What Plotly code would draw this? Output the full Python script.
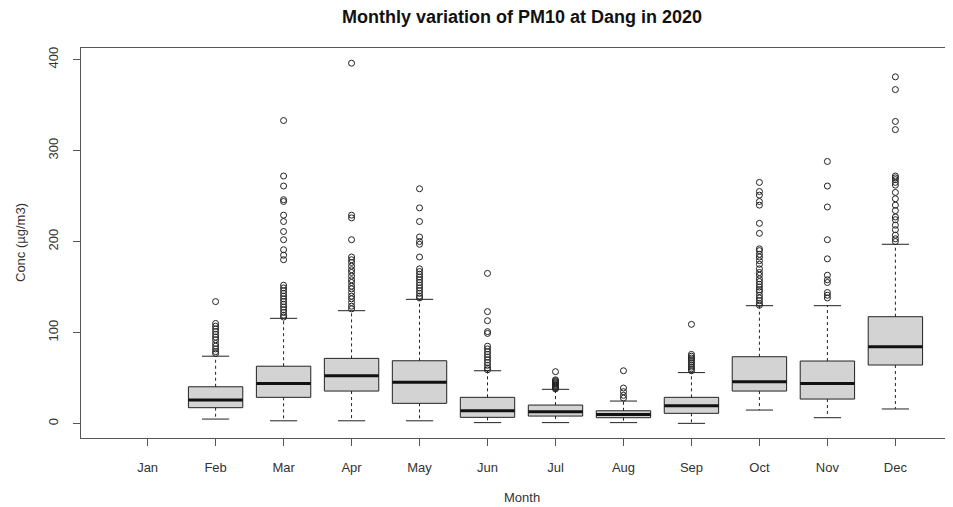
import plotly.graph_objects as go

months = ["Jan", "Feb", "Mar", "Apr", "May", "Jun", "Jul", "Aug", "Sep", "Oct", "Nov", "Dec"]
# stats per month (Jan has no data -> None)
q1 =      [None, 17.4, 28.8, 35.7, 22.2, 6.8, 8.2, 6.4, 11.2, 35.7, 26.9, 64.3]
median =  [None, 25.8, 44.0, 52.5, 45.3, 14.1, 13.0, 10.0, 19.6, 46.0, 44.0, 84.4]
q3 =      [None, 40.4, 63.0, 71.6, 69.0, 28.8, 20.3, 14.0, 28.8, 73.4, 68.7, 117.4]
lower =   [None, 4.9, 3.0, 3.0, 3.0, 1.0, 1.0, 1.0, 0.2, 14.8, 6.4, 16.0]
upper =   [None, 74.0, 115.6, 124.0, 136.5, 58.0, 37.6, 24.7, 56.0, 129.5, 129.5, 197.0]

out_feb = [134, 110, 107, 104, 101, 98, 95, 92, 88, 85, 82, 79, 77]
out_mar = [333, 272, 261, 246, 244, 229, 222, 211, 202, 191, 185, 180, 152, 149, 146, 143,
           140, 137, 134, 131, 128, 125, 122, 119, 117]
out_apr = [396, 229, 226, 202, 183, 180, 177, 173, 169, 166, 162, 158, 155, 151, 148, 144,
           140, 137, 133, 129, 126]
out_may = [258, 237, 222, 205, 200, 197, 183, 170, 167, 164, 161, 158, 155, 152, 149, 146,
           143, 140, 138]
out_jun = [165, 123, 113, 101, 99, 85, 82, 79, 76, 73, 70, 67, 64, 61, 59]
out_jul = [57, 48, 47, 46, 45, 44, 43, 42, 41, 40, 39, 38]
out_aug = [58, 39, 35, 31, 28]
out_sep = [109, 76, 74, 72, 70, 68, 66, 64, 62, 60, 58]
out_oct = [265, 255, 251, 244, 240, 220, 209, 192, 190, 186, 183, 179, 175, 170, 166, 163,
           159, 156, 153, 150, 147, 145, 141, 138, 135, 132, 130]
out_nov = [288, 261, 238, 202, 181, 163, 158, 155, 144, 141, 138]
out_dec = [381, 367, 332, 323, 272, 270, 268, 265, 262, 254, 247, 240, 234, 227, 224, 218,
           213, 207, 203, 200]
outliers = [[], out_feb, out_mar, out_apr, out_may, out_jun, out_jul, out_aug, out_sep,
            out_oct, out_nov, out_dec]

LINE = "#222222"
half = 0.4
staple = 0.2

fig = go.Figure()

wx, wy, sx, sy, mx, my, ox, oy = [], [], [], [], [], [], [], []
for i, m in enumerate(months):
    pos = i + 1
    if q1[i] is not None:
        fig.add_trace(go.Scatter(
            x=[pos - half, pos + half, pos + half, pos - half, pos - half],
            y=[q1[i], q1[i], q3[i], q3[i], q1[i]],
            mode="lines", fill="toself", fillcolor="#D3D3D3",
            line=dict(color=LINE, width=1), hoverinfo="skip", showlegend=False))
        wx += [pos, pos, None, pos, pos, None]
        wy += [q3[i], upper[i], None, q1[i], lower[i], None]
        sx += [pos - staple, pos + staple, None, pos - staple, pos + staple, None]
        sy += [upper[i], upper[i], None, lower[i], lower[i], None]
        mx += [pos - half, pos + half, None]
        my += [median[i], median[i], None]
    for v in outliers[i]:
        ox.append(pos)
        oy.append(v)

fig.add_trace(go.Scatter(x=wx, y=wy, mode="lines",
                         line=dict(color=LINE, width=1, dash="3px,3px"),
                         hoverinfo="skip", showlegend=False))
fig.add_trace(go.Scatter(x=sx, y=sy, mode="lines", line=dict(color=LINE, width=1),
                         hoverinfo="skip", showlegend=False))
fig.add_trace(go.Scatter(x=mx, y=my, mode="lines", line=dict(color="#111111", width=3),
                         hoverinfo="skip", showlegend=False))
fig.add_trace(go.Scatter(x=ox, y=oy, mode="markers",
                         marker=dict(symbol="circle-open", size=6,
                                     line=dict(color=LINE, width=1), color=LINE),
                         showlegend=False))

font_family = "Liberation Sans, Arial, sans-serif"
fig.update_layout(
    width=954, height=499,
    margin=dict(l=73, r=0, t=40, b=69),
    plot_bgcolor="white", paper_bgcolor="white",
    font=dict(family=font_family, size=13, color="#333333"),
    showlegend=False,
    xaxis=dict(range=[0.02, 12.98], tickmode="array",
               tickvals=list(range(1, 13)), ticktext=months,
               showline=True, linecolor="#555555", linewidth=1, mirror=True,
               ticks="outside", ticklen=7, tickcolor="#555555",
               ticklabelstandoff=10,
               showgrid=False, zeroline=False, tickfont=dict(size=13)),
    yaxis=dict(range=[-15.9, 412.7], tickmode="array",
               tickvals=[0, 100, 200, 300, 400],
               showline=True, linecolor="#555555", linewidth=1, mirror=False,
               ticks="outside", ticklen=7, tickcolor="#555555",
               tickangle=-90, ticklabelstandoff=10,
               showgrid=False, zeroline=False, tickfont=dict(size=13)),
    annotations=[
        dict(text="<b>Monthly variation of PM10 at Dang in 2020</b>",
             xref="paper", yref="paper", x=0.5, y=1,
             yshift=31, showarrow=False, xanchor="center", yanchor="middle",
             font=dict(size=18, color="#111111")),
        dict(text="Month", xref="paper", yref="paper", x=0.5, y=0,
             yshift=-59, showarrow=False, xanchor="center", yanchor="middle",
             font=dict(size=13)),
        dict(text="Conc (µg/m3)", xref="paper", yref="paper", x=0, y=(438 - 243) / 390,
             xshift=-61, showarrow=False, textangle=-90,
             xanchor="center", yanchor="middle", font=dict(size=13)),
    ],
)

fig.write_html("out.html")
